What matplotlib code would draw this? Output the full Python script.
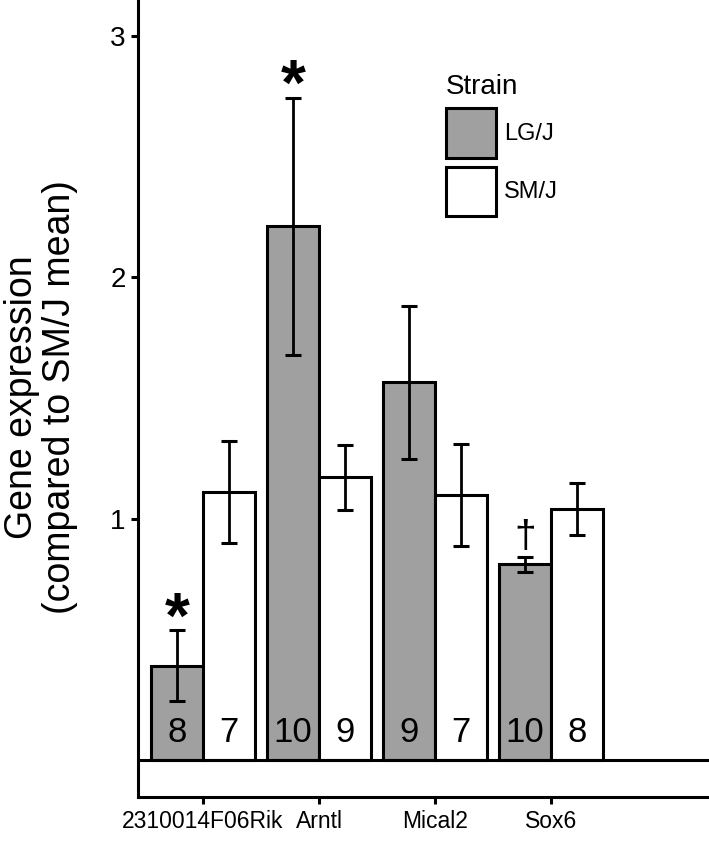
import numpy as np
import matplotlib
matplotlib.use('Agg')
import matplotlib.pyplot as plt

plt.rcParams['font.family'] = ['Liberation Sans', 'DejaVu Sans']

genes = ['2310014F06Rik', 'Arntl', 'Mical2', 'Sox6']
strains = ['LG/J', 'SM/J']
lgj_mean = [0.39, 2.21, 1.565, 0.81]
lgj_err = [0.147, 0.533, 0.317, 0.03]
smj_mean = [1.11, 1.17, 1.097, 1.04]
smj_err = [0.21, 0.133, 0.21, 0.107]
lgj_n = [8, 10, 9, 10]
smj_n = [7, 9, 7, 8]
lgj_marks = ['*', '*', '', '\u2020']

W, H = 709, 842
fig = plt.figure(figsize=(W / 100, H / 100), dpi=100)
ax = fig.add_axes([138 / W, 1 - 797 / H, 1 - 138 / W, 797 / H])

x = np.arange(len(genes))
bw = 0.45
lw = 2.2
gray = '#a0a0a0'

b1 = ax.bar(x - bw / 2, lgj_mean, bw, color=gray, edgecolor='black', linewidth=lw,
            label=strains[0], zorder=2)
b2 = ax.bar(x + bw / 2, smj_mean, bw, color='white', edgecolor='black', linewidth=lw,
            label=strains[1], zorder=2)
ax.errorbar(x - bw / 2, lgj_mean, yerr=lgj_err, fmt='none', ecolor='black',
            elinewidth=2, capsize=6, capthick=2.2, zorder=3)
ax.errorbar(x + bw / 2, smj_mean, yerr=smj_err, fmt='none', ecolor='black',
            elinewidth=2, capsize=6, capthick=2.2, zorder=3)

ax.axhline(0, color='black', linewidth=lw, zorder=4)

# sample sizes inside bars
for xi, n in zip(x - bw / 2, lgj_n):
    ax.text(xi, 0.116, str(n), ha='center', va='center', fontsize=25)
for xi, n in zip(x + bw / 2, smj_n):
    ax.text(xi, 0.116, str(n), ha='center', va='center', fontsize=25)

# significance marks
for xi, m, t, e in zip(x - bw / 2, lgj_marks, lgj_mean, lgj_err):
    if m == '*':
        ax.annotate(m, xy=(xi, t + e), xytext=(0, -5.5), textcoords='offset points',
                    ha='center', va='baseline', fontsize=46, fontweight='bold')
    elif m:
        ax.annotate(m, xy=(xi, t + e), xytext=(0, 7), textcoords='offset points',
                    ha='center', va='baseline', fontsize=28)

ax.set_xlim(-0.56, 4.36)
ax.set_ylim(-0.153, 3.147)
ax.set_yticks([1, 2, 3])
ax.set_xticks(x)
ax.set_xticklabels(genes)
ax.tick_params(axis='both', width=lw, length=5, color='black', pad=4)
ax.tick_params(axis='y', labelsize=20)
ax.tick_params(axis='x', labelsize=16.5)

for s in ['top', 'right']:
    ax.spines[s].set_visible(False)
for s in ['left', 'bottom']:
    ax.spines[s].set_linewidth(lw)

fig.text(41 / W, 1 - 397 / H, 'Gene expression\n(compared to SM/J mean)',
         rotation=90, ha='center', va='center', fontsize=27, linespacing=1.05)

leg = ax.legend(handles=[b1, b2], title='Strain', loc='upper left',
                bbox_to_anchor=(446 / W, 1 - 74 / H), bbox_transform=fig.transFigure,
                frameon=False, fontsize=17, title_fontsize=20, handlelength=2.1,
                handleheight=2.88, labelspacing=0.35, handletextpad=0.35,
                borderpad=0, borderaxespad=0, alignment='left')

fig.savefig('out.png', dpi=100)
